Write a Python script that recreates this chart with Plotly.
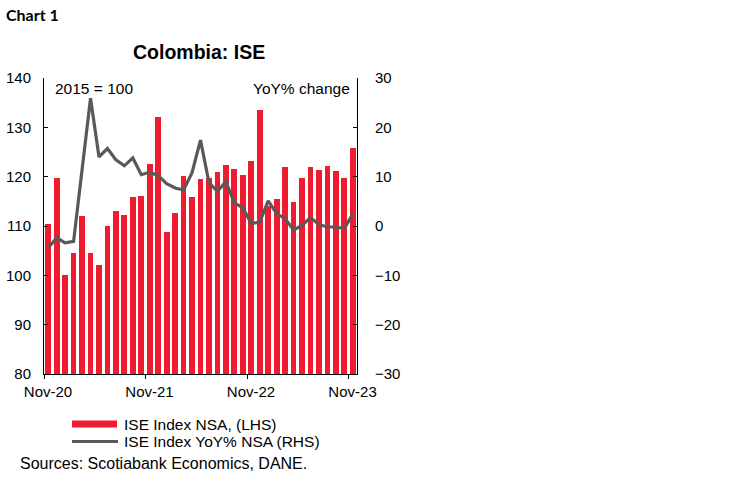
import plotly.graph_objects as go

# ---- data ----
months = ["Nov-20", "Dec-20", "Jan-21", "Feb-21", "Mar-21", "Apr-21", "May-21", "Jun-21",
          "Jul-21", "Aug-21", "Sep-21", "Oct-21", "Nov-21", "Dec-21", "Jan-22", "Feb-22",
          "Mar-22", "Apr-22", "May-22", "Jun-22", "Jul-22", "Aug-22", "Sep-22", "Oct-22",
          "Nov-22", "Dec-22", "Jan-23", "Feb-23", "Mar-23", "Apr-23", "May-23", "Jun-23",
          "Jul-23", "Aug-23", "Sep-23", "Oct-23", "Nov-23"]
ise_index = [110.4, 119.7, 100.1, 104.6, 112.0, 104.6, 102.1, 110.1, 113.0, 112.2, 115.9, 116.0,
             122.5, 132.1, 108.8, 112.6, 120.1, 115.8, 119.6, 119.7, 120.9, 122.4, 121.5, 120.3,
             123.2, 133.5, 114.0, 115.5, 122.0, 114.8, 119.8, 121.9, 121.3, 122.1, 121.1, 119.7,
             125.9]
ise_yoy = [-4.4, -2.4, -3.4, -3.1, 11.4, 25.9, 14.0, 15.7, 13.4, 12.2, 13.8, 10.4,
           10.9, 10.2, 8.6, 7.7, 7.3, 10.8, 17.4, 8.8, 7.0, 9.0, 4.7, 3.7,
           0.5, 0.8, 5.1, 2.5, 1.5, -0.8, 0.1, 1.7, 0.3, -0.2, -0.2, -0.5, 2.4]
x_tick_labels = ["Nov-20", "Nov-21", "Nov-22", "Nov-23"]
left_ticks = [80, 90, 100, 110, 120, 130, 140]
right_ticks = [-30, -20, -10, 0, 10, 20, 30]

RED = "#EE1C2E"
GREY = "#595959"
FONT = "Liberation Sans, Arial, sans-serif"

xpos = list(range(len(months)))
tick_pos = [xpos[months.index(m)] for m in x_tick_labels]

W, H = 748, 483
L, R, T, B = 44, 748 - 357, 78, 483 - 374
PW, PH = W - L - R, H - T - B


def px(x):
    return (x - L) / PW


def py(y):
    return (H - B - y) / PH


fig = go.Figure()
fig.add_trace(go.Bar(x=xpos, y=ise_index, marker=dict(color=RED, line=dict(width=0)),
                     width=0.68, yaxis="y", showlegend=False,
                     customdata=months, hovertemplate="%{customdata}: %{y}<extra></extra>"))
fig.add_trace(go.Scatter(x=xpos, y=ise_yoy, mode="lines", line=dict(color=GREY, width=3.2),
                         yaxis="y2", showlegend=False,
                         customdata=months, hovertemplate="%{customdata}: %{y}%<extra></extra>"))

axis_font = dict(family=FONT, size=15, color="#000000")
fig.update_layout(
    width=W, height=H,
    margin=dict(l=L, r=R, t=T, b=B, pad=0, autoexpand=False),
    paper_bgcolor="white", plot_bgcolor="white",
    showlegend=False,
    bargap=0,
    xaxis=dict(range=[-0.5, len(months) - 0.5], tickvals=[p - 0.5 for p in tick_pos],
               ticktext=x_tick_labels, ticks="outside", ticklen=4, tickcolor="black",
               tickwidth=1, showline=True, linecolor="black", linewidth=1,
               showgrid=False, zeroline=False, tickfont=axis_font, automargin=False,
               ticklabelshift=4, ticklabelstandoff=0),
    yaxis=dict(range=[80, 140], tickvals=left_ticks, ticks="inside", ticklen=4,
               tickcolor="black", showline=True, linecolor="black", linewidth=1,
               showgrid=False, zeroline=False, tickfont=axis_font, automargin=False,
               ticklabelstandoff=9),
    yaxis2=dict(range=[-30, 30], tickvals=right_ticks, overlaying="y", side="right",
                ticks="inside", ticklen=4, tickcolor="black", showline=True,
                linecolor="black", linewidth=1, showgrid=False, zeroline=False,
                tickfont=axis_font, automargin=False, ticklabelstandoff=14),
)

anns = [
    dict(text="<b>Chart 1</b>", x=px(4), y=py(15), xanchor="left", yanchor="middle",
         font=dict(family="Lato, Calibri, sans-serif", size=16, color="black")),
    dict(text="<b>Colombia: ISE</b>", x=px(199), y=py(52), xanchor="center", yanchor="middle",
         font=dict(family=FONT, size=19.5, color="black")),
    dict(text="2015 = 100", x=px(53), y=py(88), xanchor="left", yanchor="middle",
         font=dict(family=FONT, size=15.5, color="black")),
    dict(text="YoY% change", x=px(352), y=py(88), xanchor="right", yanchor="middle",
         font=dict(family=FONT, size=15.5, color="black")),
    dict(text="ISE Index NSA, (LHS)", x=px(122), y=py(424), xanchor="left", yanchor="middle",
         font=dict(family=FONT, size=15.5, color="black")),
    dict(text="ISE Index YoY% NSA (RHS)", x=px(122), y=py(441), xanchor="left", yanchor="middle",
         font=dict(family=FONT, size=15.5, color="black")),
    dict(text="Sources: Scotiabank Economics, DANE.", x=px(18), y=py(463), xanchor="left",
         yanchor="middle", font=dict(family=FONT, size=16, color="black")),
]
for a in anns:
    a.update(xref="paper", yref="paper", showarrow=False)
fig.update_layout(annotations=anns)

fig.update_layout(shapes=[
    dict(type="rect", xref="paper", yref="paper", x0=px(72), x1=px(117), y0=py(427.5), y1=py(420.5),
         fillcolor=RED, line=dict(width=0)),
    dict(type="line", xref="paper", yref="paper", x0=px(72), x1=px(118), y0=py(441.5), y1=py(441.5),
         line=dict(color=GREY, width=3.2)),
])

fig.write_html("out.html", config={"displayModeBar": False},
               post_script="document.body.style.margin='0';document.body.style.overflow='hidden';")
